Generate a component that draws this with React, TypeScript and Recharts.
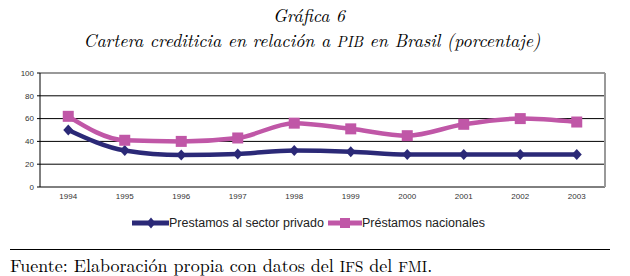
import { LineChart, Line, XAxis, YAxis, CartesianGrid, ReferenceLine } from 'recharts'

const years = [1994, 1995, 1996, 1997, 1998, 1999, 2000, 2001, 2002, 2003]
const privado = [50, 32, 28, 29, 32, 31, 28.5, 28.5, 28.5, 28.5]
const nacionales = [62, 41, 40, 43, 56, 51, 45, 55, 60, 57]
const yTicks = [0, 20, 40, 60, 80, 100]
const gridValues = [20, 40, 60, 80]
const bandEdges = [1993.5, 1994.5, 1995.5, 1996.5, 1997.5, 1998.5, 1999.5, 2000.5, 2001.5, 2002.5, 2003.5]

const data = years.map((year, i) => ({ year, privado: privado[i], nacionales: nacionales[i] }))

const BLUE = '#2b2977'
const PINK = '#c057a7'
const serif = '"Latin Modern Roman", "DejaVu Serif", "Liberation Serif", serif'
const sans = '"Liberation Sans", Arial, sans-serif'

const Diamond = (props: any) => {
  const { cx, cy } = props
  if (cx == null || cy == null) return null
  return <polygon points={`${cx},${cy - 5.5} ${cx + 5},${cy} ${cx},${cy + 5.5} ${cx - 5},${cy}`} fill={BLUE} />
}

const Square = (props: any) => {
  const { cx, cy } = props
  if (cx == null || cy == null) return null
  return <rect x={cx - 5.5} y={cy - 5.5} width={11} height={11} fill={PINK} />
}

export default function App() {
  return (
    <div style={{ position: 'absolute', left: 0, top: 0, width: 630, height: 276, background: '#fff', overflow: 'hidden' }}>
      <div style={{ position: 'absolute', top: 2, left: -6, width: 630, textAlign: 'center', fontFamily: serif, fontStyle: 'italic', fontSize: 18 }}>
        Gráfica 6
      </div>
      <div style={{ position: 'absolute', top: 27, left: -3, width: 630, textAlign: 'center', fontFamily: serif, fontStyle: 'italic', fontSize: 18 }}>
        Cartera crediticia en relación a <span style={{ fontSize: 15 }}>PIB</span> en Brasil (porcentaje)
      </div>

      <div style={{ position: 'absolute', left: 0, top: 0 }}>
        <LineChart width={630} height={210} data={data} margin={{ top: 73, right: 24, bottom: 2, left: 0 }}>
          <CartesianGrid xAxisId="years" yAxisId="l" vertical={false} stroke="#000" strokeWidth={1} horizontalValues={gridValues} />
          <ReferenceLine y={100} yAxisId="l" xAxisId="years" stroke="#999" strokeWidth={2} />
          <XAxis
            xAxisId="edges"
            type="number"
            dataKey="year"
            domain={[1993.5, 2003.5]}
            ticks={bandEdges}
            tick={false}
            tickSize={4}
            tickLine={{ stroke: '#000' }}
            axisLine={{ stroke: '#000' }}
            height={1}
          />
          <XAxis
            xAxisId="years"
            type="number"
            dataKey="year"
            domain={[1993.5, 2003.5]}
            ticks={years}
            tickLine={false}
            axisLine={false}
            tick={{ fontSize: 8, fill: '#333', fontFamily: sans }}
            tickSize={3}
            tickMargin={2}
            interval={0}
            height={20}
          />
          <YAxis
            yAxisId="l"
            domain={[0, 100]}
            ticks={yTicks}
            width={40}
            tickSize={3}
            tickMargin={3}
            tickLine={{ stroke: '#000' }}
            axisLine={{ stroke: '#000' }}
            tick={{ fontSize: 8, fill: '#333', fontFamily: sans }}
            interval={0}
          />
          <YAxis yAxisId="r" orientation="right" domain={[0, 100]} width={1} tick={false} tickLine={false} axisLine={{ stroke: '#999', strokeWidth: 2 }} />
          <Line
            xAxisId="years"
            yAxisId="l"
            type="monotone"
            dataKey="privado"
            stroke={BLUE}
            strokeWidth={4.5}
            dot={<Diamond />}
            isAnimationActive={false}
          />
          <Line
            xAxisId="years"
            yAxisId="l"
            type="monotone"
            dataKey="nacionales"
            stroke={PINK}
            strokeWidth={4.5}
            dot={<Square />}
            isAnimationActive={false}
          />
        </LineChart>
      </div>

      <div style={{ position: 'absolute', top: 216, left: 132, display: 'flex', alignItems: 'center', fontFamily: sans, fontSize: 12.5, color: '#222' }}>
        <svg width={37} height={14}>
          <line x1={0} y1={7} x2={37} y2={7} stroke={BLUE} strokeWidth={5} />
          <polygon points="19,1.5 23.5,7 19,12.5 14.5,7" fill={BLUE} />
        </svg>
        <span style={{ marginRight: 4 }}>Prestamos al sector privado</span>
        <svg width={34} height={14}>
          <line x1={0} y1={7} x2={34} y2={7} stroke={PINK} strokeWidth={5} />
          <rect x={12} y={2} width={10} height={10} fill={PINK} />
        </svg>
        <span>Préstamos nacionales</span>
      </div>

      <div style={{ position: 'absolute', top: 249, left: 10, width: 600, height: 1, background: '#000' }} />
      <div style={{ position: 'absolute', top: 252, left: 10, fontFamily: serif, fontSize: 18, color: '#000', whiteSpace: 'nowrap' }}>
        Fuente: Elaboración propia con datos del <span style={{ fontSize: 15 }}>IFS</span> del <span style={{ fontSize: 15 }}>FMI</span>.
      </div>
    </div>
  )
}
